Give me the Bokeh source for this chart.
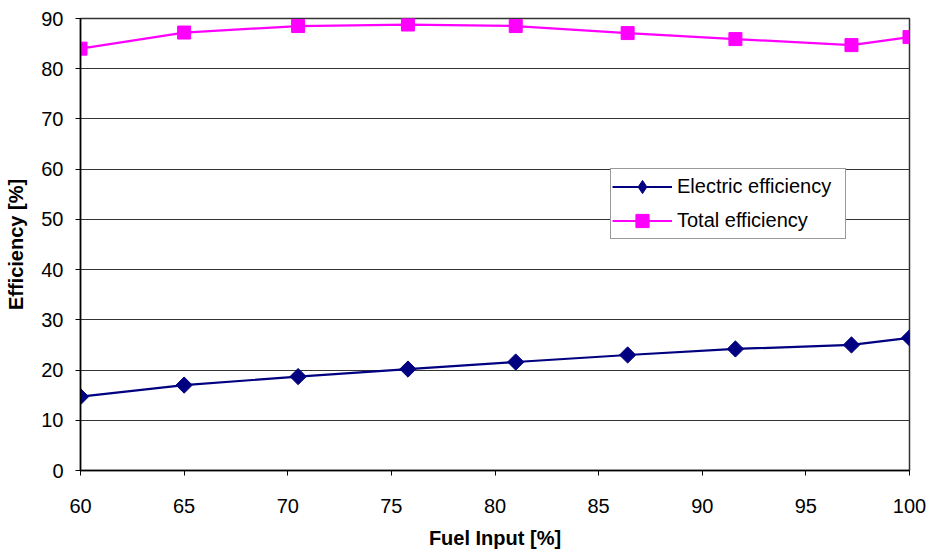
import math
from bokeh.plotting import figure
from bokeh.models import Range1d, SingleIntervalTicker, Legend, LegendItem
from bokeh.embed import file_html
from bokeh.resources import INLINE

fuel_input = [60, 65, 70.5, 75.8, 81, 86.4, 91.6, 97.2, 100]
electric_eff = [14.7, 17.0, 18.7, 20.2, 21.6, 23.0, 24.2, 25.0, 26.4]
total_eff = [84.0, 87.2, 88.5, 88.8, 88.5, 87.1, 85.9, 84.7, 86.3]

FONT = "Liberation Sans"
NAVY = "#000080"
MAGENTA = "#FF00FF"

p = figure(width=929, height=552, output_backend="svg", toolbar_location=None,
           x_range=Range1d(60, 100), y_range=Range1d(0, 90),
           min_border_left=80, min_border_right=20, min_border_top=18, min_border_bottom=82)

p.background_fill_color = "white"
p.border_fill_color = "white"
p.outline_line_color = "#333333"
p.outline_line_width = 1.5

p.xgrid.grid_line_color = None
p.ygrid.grid_line_color = "#333333"
p.ygrid.grid_line_width = 1
p.ygrid.ticker = SingleIntervalTicker(interval=10)

p.xaxis.ticker = SingleIntervalTicker(interval=5)
p.yaxis.ticker = SingleIntervalTicker(interval=10)

for ax in (p.xaxis[0], p.yaxis[0]):
    ax.axis_line_color = "black"
    ax.axis_line_width = 1.5
    ax.major_tick_line_color = "black"
    ax.major_tick_in = 0
    ax.major_tick_out = 5
    ax.minor_tick_line_color = None
    ax.major_label_text_font = FONT
    ax.major_label_text_font_size = "20px"
    ax.major_label_text_color = "black"
    ax.axis_label_text_font = FONT
    ax.axis_label_text_font_size = "20px"
    ax.axis_label_text_font_style = "bold"
    ax.axis_label_text_color = "black"

p.xaxis.axis_label = "Fuel Input [%]"
p.yaxis.axis_label = "Efficiency [%]"
p.xaxis.major_label_standoff = 23
p.xaxis.axis_label_standoff = 11
p.yaxis.major_label_standoff = 12
p.yaxis.axis_label_standoff = 11

l1 = p.line(fuel_input, electric_eff, line_color=NAVY, line_width=2.2)
# legend-only diamond (legend glyphs ignore marker angle); hidden beneath the rotated squares
m1_leg = p.scatter(fuel_input, electric_eff, marker="diamond", size=10,
                   fill_color=NAVY, line_color=NAVY)
m1 = p.scatter(fuel_input, electric_eff, marker="square", angle=math.pi / 4, size=11.5,
               fill_color=NAVY, line_color=NAVY)
l2 = p.line(fuel_input, total_eff, line_color=MAGENTA, line_width=2.2)
m2 = p.scatter(fuel_input, total_eff, marker="square", size=13,
               fill_color=MAGENTA, line_color=MAGENTA)

legend = Legend(items=[LegendItem(label="Electric efficiency", renderers=[l1, m1_leg]),
                       LegendItem(label="Total efficiency", renderers=[l2, m2])],
                location=(530, 231))
legend.label_text_font = FONT
legend.label_text_font_size = "20px"
legend.label_text_color = "black"
legend.glyph_width = 60
legend.glyph_height = 33
legend.label_standoff = 5
legend.label_width = 167
legend.spacing = 1
legend.padding = 1
legend.margin = 0
legend.border_line_color = "#333333"
legend.border_line_width = 1.5
legend.background_fill_color = "white"
legend.background_fill_alpha = 1
p.add_layout(legend, "center")

open("out.html", "w").write(file_html(p, INLINE))
